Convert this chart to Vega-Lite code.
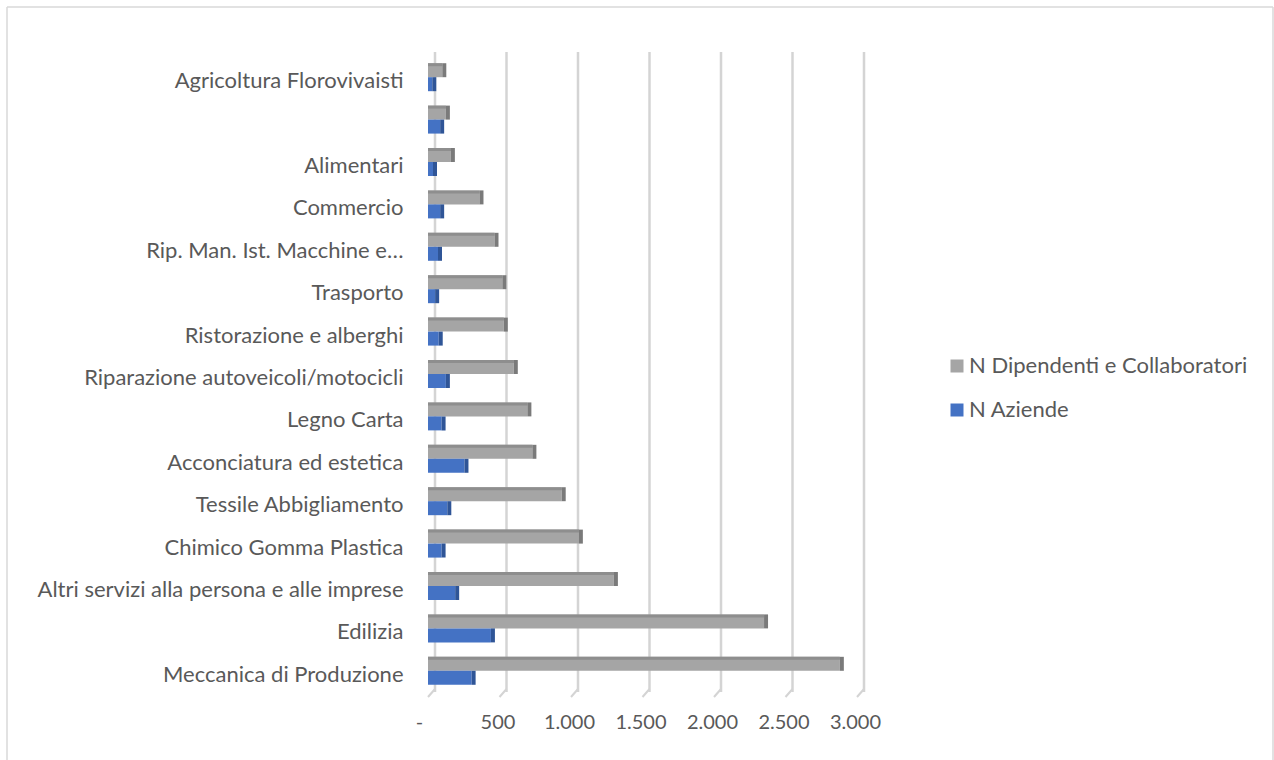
{
  "$schema": "https://vega.github.io/schema/vega-lite/v6.json",
  "width": 429,
  "height": 636,
  "autosize": "none",
  "padding": {"left": 428, "top": 56, "right": 417, "bottom": 68},
  "background": "white",
  "config": {
    "font": "Lato",
    "view": {"stroke": null},
    "axis": {"labelColor": "#595959", "labelFontSize": 22, "labelFont": "Lato", "domain": false, "ticks": false}
  },
  "datasets": {
    "bars": [
      {"settore": "Agricoltura Florovivaisti", "serie": "N Dipendenti e Collaboratori", "valore": 100},
      {"settore": "Agricoltura Florovivaisti", "serie": "N Aziende", "valore": 30},
      {"settore": " ", "serie": "N Dipendenti e Collaboratori", "valore": 125},
      {"settore": " ", "serie": "N Aziende", "valore": 85},
      {"settore": "Alimentari", "serie": "N Dipendenti e Collaboratori", "valore": 160},
      {"settore": "Alimentari", "serie": "N Aziende", "valore": 35},
      {"settore": "Commercio", "serie": "N Dipendenti e Collaboratori", "valore": 360},
      {"settore": "Commercio", "serie": "N Aziende", "valore": 85},
      {"settore": "Rip. Man. Ist. Macchine e…", "serie": "N Dipendenti e Collaboratori", "valore": 465},
      {"settore": "Rip. Man. Ist. Macchine e…", "serie": "N Aziende", "valore": 70},
      {"settore": "Trasporto", "serie": "N Dipendenti e Collaboratori", "valore": 520},
      {"settore": "Trasporto", "serie": "N Aziende", "valore": 50},
      {"settore": "Ristorazione e alberghi", "serie": "N Dipendenti e Collaboratori", "valore": 530},
      {"settore": "Ristorazione e alberghi", "serie": "N Aziende", "valore": 75},
      {"settore": "Riparazione autoveicoli/motocicli", "serie": "N Dipendenti e Collaboratori", "valore": 600},
      {"settore": "Riparazione autoveicoli/motocicli", "serie": "N Aziende", "valore": 125},
      {"settore": "Legno Carta", "serie": "N Dipendenti e Collaboratori", "valore": 695},
      {"settore": "Legno Carta", "serie": "N Aziende", "valore": 95},
      {"settore": "Acconciatura ed estetica", "serie": "N Dipendenti e Collaboratori", "valore": 730},
      {"settore": "Acconciatura ed estetica", "serie": "N Aziende", "valore": 255},
      {"settore": "Tessile Abbigliamento", "serie": "N Dipendenti e Collaboratori", "valore": 935},
      {"settore": "Tessile Abbigliamento", "serie": "N Aziende", "valore": 135},
      {"settore": "Chimico Gomma Plastica", "serie": "N Dipendenti e Collaboratori", "valore": 1055},
      {"settore": "Chimico Gomma Plastica", "serie": "N Aziende", "valore": 95},
      {"settore": "Altri servizi alla persona e alle imprese", "serie": "N Dipendenti e Collaboratori", "valore": 1300},
      {"settore": "Altri servizi alla persona e alle imprese", "serie": "N Aziende", "valore": 190},
      {"settore": "Edilizia", "serie": "N Dipendenti e Collaboratori", "valore": 2350},
      {"settore": "Edilizia", "serie": "N Aziende", "valore": 440},
      {"settore": "Meccanica di Produzione", "serie": "N Dipendenti e Collaboratori", "valore": 2880},
      {"settore": "Meccanica di Produzione", "serie": "N Aziende", "valore": 305}
    ],
    "grid": [{"v": 0}, {"v": 500}, {"v": 1000}, {"v": 1500}, {"v": 2000}, {"v": 2500}, {"v": 3000}],
    "frame": [{"f": 1}]
  },
  "layer": [
    {
      "data": {"name": "frame"},
      "mark": {"type": "rule", "color": "#d9d9d9", "strokeWidth": 1.5, "xOffset": -421, "yOffset": -70.2, "y2Offset": 100},
      "encoding": {"x": {"datum": 0}, "y": {"datum": "Agricoltura Florovivaisti"}, "y2": {"datum": "Meccanica di Produzione"}}
    },
    {
      "data": {"name": "frame"},
      "mark": {"type": "rule", "color": "#d9d9d9", "strokeWidth": 1.5, "xOffset": 416, "yOffset": -70.2, "y2Offset": 100},
      "encoding": {"x": {"datum": 3000}, "y": {"datum": "Agricoltura Florovivaisti"}, "y2": {"datum": "Meccanica di Produzione"}}
    },
    {
      "data": {"name": "frame"},
      "mark": {"type": "rule", "color": "#d9d9d9", "strokeWidth": 1.5, "yOffset": -70.2, "xOffset": -421, "x2Offset": 416},
      "encoding": {"y": {"datum": "Agricoltura Florovivaisti"}, "x": {"datum": 0}, "x2": {"datum": 3000}}
    },
    {
      "data": {"name": "grid"},
      "mark": {"type": "rule", "color": "#d4d4d4", "strokeWidth": 2, "x2Offset": 7, "yOffset": 26.2, "y2Offset": 18.2},
      "encoding": {
        "x": {"field": "v", "type": "quantitative"},
        "x2": {"field": "v"},
        "y": {"datum": "Meccanica di Produzione"},
        "y2": {"datum": "Meccanica di Produzione"}
      }
    },
    {
      "data": {"name": "grid"},
      "mark": {"type": "rule", "color": "#d4d4d4", "strokeWidth": 2.5, "xOffset": 7, "yOffset": -4, "y2Offset": -3},
      "encoding": {
        "x": {"field": "v", "type": "quantitative", "scale": {"domain": [0, 3000], "nice": false},
              "axis": {"title": null, "values": [0, 500, 1000, 1500, 2000, 2500, 3000], "grid": false, "labelPadding": 20, "labelFontSize": 20, "labelOverlap": false, "labelFlush": false,
                   "labelExpr": "datum.value == 0 ? '-' : replace(format(datum.value, ','), ',', '.')",
                   "labelOffset": {"condition": {"test": "datum.value == 0", "value": -9}, "value": -2}}}
      }
    },
    {
      "data": {"name": "bars"},
      "mark": {"type": "bar"},
      "encoding": {
        "y": {
          "field": "settore", "type": "nominal",
          "sort": ["Agricoltura Florovivaisti", " ", "Alimentari", "Commercio", "Rip. Man. Ist. Macchine e…", "Trasporto", "Ristorazione e alberghi", "Riparazione autoveicoli/motocicli", "Legno Carta", "Acconciatura ed estetica", "Tessile Abbigliamento", "Chimico Gomma Plastica", "Altri servizi alla persona e alle imprese", "Edilizia", "Meccanica di Produzione"],
          "scale": {"paddingInner": 0.34, "paddingOuter": 0.17},
          "axis": {"title": null, "labelPadding": 25, "labelLimit": 420, "labelOffset": 4}
        },
        "yOffset": {"field": "serie", "type": "nominal", "sort": ["N Dipendenti e Collaboratori", "N Aziende"], "scale": {"domain": ["N Dipendenti e Collaboratori", "N Aziende"]}},
        "x": {
          "field": "valore", "type": "quantitative",
          "scale": {"domain": [0, 3000], "nice": false},
          "axis": {"title": null, "values": [0, 500, 1000, 1500, 2000, 2500, 3000], "grid": false, "labelPadding": 20, "labelFontSize": 20, "labelOverlap": false, "labelFlush": false,
                   "labelExpr": "datum.value == 0 ? '-' : replace(format(datum.value, ','), ',', '.')",
                   "labelOffset": {"condition": {"test": "datum.value == 0", "value": -9}, "value": -2}}
        },
        "color": {
          "field": "serie", "type": "nominal",
          "scale": {"domain": ["N Dipendenti e Collaboratori", "N Aziende"], "range": ["#a5a5a5", "#4472c4"]},
          "legend": {"title": null, "orient": "none", "legendX": 518, "legendY": 299, "symbolType": "square", "symbolSize": 169, "symbolStrokeWidth": 0, "labelFontSize": 22, "labelColor": "#595959", "labelFont": "Lato", "labelLimit": 400, "rowPadding": 22, "labelOffset": 1}
        }
      }
    },
    {
      "data": {"name": "bars"},
      "transform": [{"filter": "datum.serie == 'N Dipendenti e Collaboratori'"}],
      "mark": {"type": "bar", "height": 3, "yOffset": -12.5, "color": "#8e8e8e"},
      "encoding": {
        "y": {"field": "settore", "type": "nominal", "sort": ["Agricoltura Florovivaisti", " ", "Alimentari", "Commercio", "Rip. Man. Ist. Macchine e…", "Trasporto", "Ristorazione e alberghi", "Riparazione autoveicoli/motocicli", "Legno Carta", "Acconciatura ed estetica", "Tessile Abbigliamento", "Chimico Gomma Plastica", "Altri servizi alla persona e alle imprese", "Edilizia", "Meccanica di Produzione"]},
        "x": {"field": "valore", "type": "quantitative"}
      }
    },
    {
      "data": {"name": "bars"},
      "mark": {"type": "bar", "x2Offset": 4},
      "encoding": {
        "y": {"field": "settore", "type": "nominal", "sort": ["Agricoltura Florovivaisti", " ", "Alimentari", "Commercio", "Rip. Man. Ist. Macchine e…", "Trasporto", "Ristorazione e alberghi", "Riparazione autoveicoli/motocicli", "Legno Carta", "Acconciatura ed estetica", "Tessile Abbigliamento", "Chimico Gomma Plastica", "Altri servizi alla persona e alle imprese", "Edilizia", "Meccanica di Produzione"]},
        "yOffset": {"field": "serie", "type": "nominal", "sort": ["N Dipendenti e Collaboratori", "N Aziende"]},
        "x": {"field": "valore", "type": "quantitative"},
        "x2": {"field": "valore"},
        "fill": {"field": "serie", "type": "nominal", "scale": {"domain": ["N Dipendenti e Collaboratori", "N Aziende"], "range": ["#7a7a7a", "#2f5597"]}, "legend": null}
      }
    }
  ]
}
